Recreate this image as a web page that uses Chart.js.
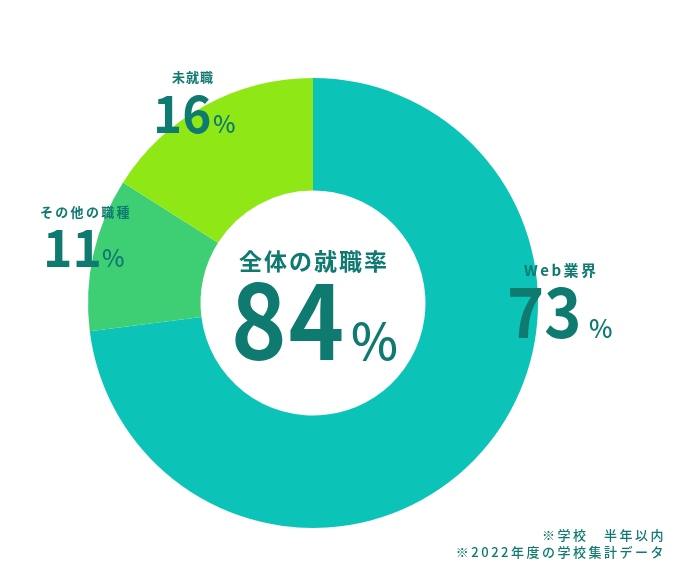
<!DOCTYPE html>
<html>
<head>
<meta charset="utf-8">
<script src="https://cdn.jsdelivr.net/npm/chart.js@4"></script>
<style>
html,body{margin:0;padding:0;background:#fff;}
#wrap{position:relative;width:700px;height:569px;}
</style>
</head>
<body>
<div id="wrap"><canvas id="c" width="700" height="569"></canvas></div>
<script>
const categories = ['Web業界', 'その他の職種', '未就職'];
const values = [73, 11, 16];
const sliceColors = ['#0bc3b7', '#3ecf74', '#8fe816'];
const centerTitle = '全体の就職率';
const centerValue = '84';
const notes = ['※学校　半年以内', '※2022年度の学校集計データ'];

const TXT = '#0f7a70';
const FF = '"Noto Sans CJK JP", "Noto Sans", sans-serif';

function drawLabel(ctx, x, y, str, size, align, spacing, weight, sx) {
  ctx.save();
  ctx.font = `${weight || 700} ${size}px ${FF}`;
  ctx.textAlign = align;
  ctx.letterSpacing = (spacing || 0) + 'px';
  ctx.translate(x, y);
  ctx.scale(sx || 1, 1);
  ctx.fillText(str, 0, 0);
  ctx.restore();
}

const textPlugin = {
  id: 'texts',
  afterDraw(chart) {
    const ctx = chart.ctx;
    ctx.save();
    ctx.fillStyle = TXT;
    ctx.textBaseline = 'alphabetic';
    // 未就職
    drawLabel(ctx, 193, 82, categories[2], 13, 'center', 1);
    drawLabel(ctx, 153, 133, String(values[2]), 52, 'left', 0, 700, 0.95);
    drawLabel(ctx, 213, 133, '%', 24, 'left', 0, 500);
    // その他の職種
    drawLabel(ctx, 40, 217, categories[1], 13, 'left', 2.3);
    drawLabel(ctx, 43, 267, String(values[1]), 52, 'left', 0, 700, 0.96);
    drawLabel(ctx, 102, 267, '%', 24, 'left', 0, 500);
    // Web業界
    drawLabel(ctx, 524, 276, categories[0], 15, 'left', 2.5);
    drawLabel(ctx, 507, 338, String(values[0]), 70, 'left', 0, 700, 0.9);
    drawLabel(ctx, 589, 338, '%', 25, 'left', 0, 500);
    // center
    drawLabel(ctx, 314, 270, centerTitle, 23, 'center', 2);
    drawLabel(ctx, 231, 360, centerValue, 106, 'left', 2, 700, 0.89);
    drawLabel(ctx, 351, 360, '%', 50, 'left', 0, 500);
    // notes
    drawLabel(ctx, 666, 540, notes[0], 13, 'right', 2.5, 500);
    drawLabel(ctx, 666, 557, notes[1], 13, 'right', 2.5, 500);
    ctx.restore();
  }
};

new Chart(document.getElementById('c'), {
  type: 'doughnut',
  data: {
    labels: categories,
    datasets: [{
      data: values,
      backgroundColor: sliceColors,
      borderWidth: 0,
      hoverOffset: 0
    }]
  },
  options: {
    responsive: false,
    animation: false,
    cutout: '50%',
    layout: { padding: { left: 88, right: 162, top: 78, bottom: 41 } },
    plugins: { legend: { display: false }, tooltip: { enabled: false } }
  },
  plugins: [textPlugin]
});
</script>
</body>
</html>
